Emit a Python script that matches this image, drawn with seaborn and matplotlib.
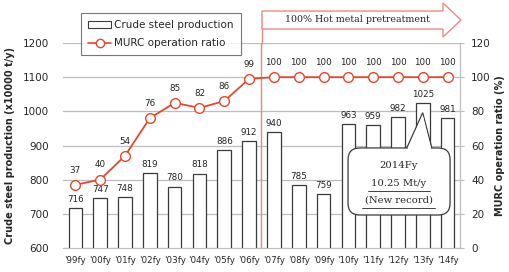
import matplotlib
matplotlib.use("Agg")
import matplotlib.pyplot as plt
import seaborn as sns
import numpy as np
import pandas as pd
from matplotlib.patches import FancyBboxPatch, Polygon, Patch
from matplotlib.lines import Line2D

years = ["'99fy", "'00fy", "'01fy", "'02fy", "'03fy", "'04fy", "'05fy", "'06fy",
         "'07fy", "'08fy", "'09fy", "'10fy", "'11fy", "'12fy", "'13fy", "'14fy"]
production = [716, 747, 748, 819, 780, 818, 886, 912,
              940, 785, 759, 963, 959, 982, 1025, 981]
murc_ratio = [37, 40, 54, 76, 85, 82, 86, 99,
              100, 100, 100, 100, 100, 100, 100, 100]

RED = "#E8472E"
GRID = "#BDBDBD"
EDGE = "#3A3A3A"

df = pd.DataFrame({"year": years, "production": production, "ratio": murc_ratio})
df["pos"] = np.arange(len(years))

sns.set_style("white")
plt.rcParams["font.family"] = ["DejaVu Sans"]

fig = plt.figure(figsize=(5.1, 2.72), dpi=100)
W, H = 510, 272
ax = fig.add_axes([63 / W, 1 - 248 / H, 397 / W, 205 / H])

# bars
sns.barplot(data=df, x="year", y="production", ax=ax, color="white",
            edgecolor=EDGE, linewidth=0.9, width=0.55, zorder=2)
ax.set_ylim(600, 1200)
ax.set_yticks(range(600, 1201, 100))
ax.yaxis.grid(True, color=GRID, linewidth=0.9, zorder=0)
ax.set_axisbelow(True)
ax.set_xlim(-0.5, len(years) - 0.5)
for i, v in enumerate(production):
    ax.text(i, v + 12, str(v), ha="center", va="bottom", fontsize=6.3, color="#222222")

ax.set_xlabel("")
ax.set_ylabel("Crude steel production (x10000 t/y)", fontsize=7, fontweight="bold", labelpad=6)
ax.tick_params(axis="x", labelsize=6.3, length=0, pad=6)
ax.tick_params(axis="y", labelsize=7.5, length=0, pad=10)
for s in ["top", "left"]:
    ax.spines[s].set_visible(False)
ax.spines["bottom"].set_color(GRID)
ax.spines["right"].set_color(GRID)
# category separator ticks
ax.set_xticks(np.arange(len(years)) + 0.5, minor=True)
ax.tick_params(axis="x", which="minor", length=3, color=GRID)

# line on secondary axis
ax2 = ax.twinx()
sns.lineplot(data=df, x="pos", y="ratio", ax=ax2, color=RED, linewidth=1.3,
             marker="o", markersize=7, markerfacecolor="white",
             markeredgecolor=RED, markeredgewidth=1.0, zorder=5)
ax2.set_ylim(0, 120)
ax2.set_yticks(range(0, 121, 20))
ax2.set_ylabel("MURC operation ratio (%)", fontsize=7, fontweight="bold", labelpad=3)
ax2.tick_params(axis="y", labelsize=7.5, length=3, color=GRID, pad=5)
for s in ["top", "left", "bottom"]:
    ax2.spines[s].set_visible(False)
ax2.spines["right"].set_color(GRID)
for i, v in enumerate(murc_ratio):
    ax2.text(i, v + 6, str(v), ha="center", va="bottom", fontsize=6.3, color="#222222")

# vertical separator and big arrow
ax.axvline(7.5, color="#E8877D", linewidth=1.0, zorder=6)
arrow_px = [(262, 11), (443, 11), (443, 3), (461, 20), (443, 37), (443, 29), (262, 29)]
arrow = Polygon([(x / W, 1 - y / H) for x, y in arrow_px], closed=True,
                facecolor="white", edgecolor="#EC8C82", linewidth=1.0,
                transform=fig.transFigure, zorder=10)
fig.patches.append(arrow)
fig.lines.append(Line2D([262 / W, 262 / W], [1 - 11 / H, 1 - 43 / H],
                        color="#E8877D", linewidth=1.0, transform=fig.transFigure))
fig.text(357 / W, 1 - 20 / H, "100% Hot metal pretreatment", ha="center", va="center",
         fontsize=6.8, family="DejaVu Serif", zorder=11)

# callout
box = FancyBboxPatch((0.718, 0.161), 0.257, 0.327,
                     boxstyle="round,pad=0,rounding_size=0.03",
                     transform=ax2.transAxes, facecolor="white", edgecolor=EDGE,
                     linewidth=0.9, zorder=20, mutation_aspect=1.9)
ax2.add_patch(box)
pointer = Polygon([(0.866, 0.488), (0.906, 0.66), (0.929, 0.488)], closed=False,
                  transform=ax2.transAxes, facecolor="white", edgecolor=EDGE,
                  linewidth=0.9, zorder=21)
ax2.add_patch(pointer)
ax2.add_patch(Polygon([(0.868, 0.482), (0.906, 0.65), (0.927, 0.482)], closed=True,
                      transform=ax2.transAxes, facecolor="white", edgecolor="none",
                      zorder=22))
cx = 0.846
ax2.text(cx, 0.40, "2014Fy", transform=ax2.transAxes, ha="center", va="center",
         fontsize=7.2, family="DejaVu Serif", zorder=23)
ax2.text(cx, 0.315, "10.25 Mt/y", transform=ax2.transAxes, ha="center", va="center",
         fontsize=7.2, family="DejaVu Serif", zorder=23)
ax2.text(cx, 0.235, "(New record)", transform=ax2.transAxes, ha="center", va="center",
         fontsize=7.2, family="DejaVu Serif", zorder=23)
ax2.plot([cx - 0.078, cx + 0.078], [0.278, 0.278], transform=ax2.transAxes,
         color="#222222", linewidth=0.6, zorder=23)
ax2.plot([cx - 0.092, cx + 0.092], [0.196, 0.196], transform=ax2.transAxes,
         color="#222222", linewidth=0.6, zorder=23)

# legend
handles = [Patch(facecolor="white", edgecolor=EDGE, linewidth=0.8),
           Line2D([0], [0], color=RED, marker="o", markerfacecolor="white",
                  markeredgecolor=RED, markersize=6, linewidth=1.2)]
leg = fig.legend(handles, ["Crude steel production", "MURC operation ratio"],
                 loc="center", bbox_to_anchor=(161 / W, 1 - 34 / H), fontsize=7.5,
                 frameon=True, fancybox=False, edgecolor="#555555",
                 handlelength=2.2, handletextpad=0.3, borderpad=0.7, labelspacing=0.8,
                 borderaxespad=0)
leg.get_frame().set_linewidth(0.8)
leg.set_zorder(30)

fig.savefig("out.png", dpi=100)
